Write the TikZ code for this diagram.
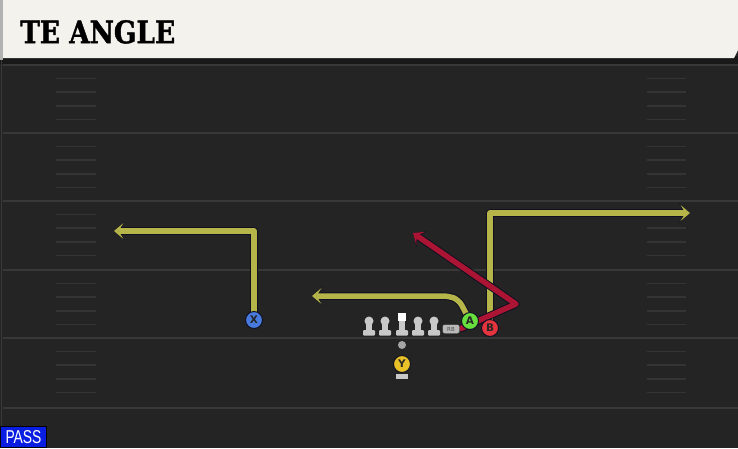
\documentclass[tikz,border=0pt]{standalone}
\usepackage{fontspec}
\usetikzlibrary{arrows.meta}
\newfontfamily\titlefont{DejaVu Serif}[BoldFont={DejaVu Serif Bold},BoldFeatures={FakeBold=1.5}]
\newfontfamily\lblfont{DejaVu Sans}
\newfontfamily\passfont{Liberation Sans}
\definecolor{fieldbg}{RGB}{36,36,36}
\definecolor{yardline}{RGB}{56,56,56}
\definecolor{hashc}{RGB}{52,52,52}
\definecolor{banner}{RGB}{244,242,236}
\definecolor{routey}{RGB}{181,181,74}
\definecolor{router}{RGB}{172,20,52}
\definecolor{outl}{RGB}{16,16,34}
\definecolor{pA}{RGB}{104,222,62}
\definecolor{pB}{RGB}{228,52,62}
\definecolor{pX}{RGB}{72,122,222}
\definecolor{pY}{RGB}{232,192,40}
\definecolor{olin}{RGB}{200,200,200}
\definecolor{passblue}{RGB}{10,30,225}
\pgfdeclarelayer{field}
\pgfdeclarelayer{routes}
\pgfsetlayers{field,routes,main}
\tikzset{
  player/.style={circle,minimum size=17pt,inner sep=0pt,draw=outl,line width=1pt,
    font=\lblfont\bfseries\fontsize{10.5}{10.5}\selectfont,text=black!85},
  routeout/.style={line width=7.5pt,draw=outl,line join=round},
  routein/.style={line width=5.5pt,line join=round},
  tipo/.style={-{Stealth[length=11pt,width=19pt,inset=6pt,line width=1.2pt]}},
  tipi/.style={-{Stealth[length=9.5pt,width=16pt,inset=5pt,line width=0pt]}},
  hashm/.style={draw=hashc,line width=1.6pt},
  yardm/.style={draw=yardline,line width=2pt},
  lineman/.pic={
    \fill[olin,rounded corners=1pt] (-6,9) rectangle (6,14.5);
    \fill[olin] (-3,0) rectangle (3,10);
    \fill[olin] (0,0) circle (4.5);
  }
}
\begin{document}
\begin{tikzpicture}[x=1pt,y=-1pt]
\useasboundingbox (0,0) rectangle (738,448);
\begin{pgfonlayer}{field}
  \fill[fieldbg] (0,0) rectangle (738,448);
  \fill[black!90] (0,56) rectangle (738,64);
  \fill[gray!60] (0,0) rectangle (3,60);
  \draw[draw=yardline,line width=1.5pt] (1.5,60) -- (1.5,448);
  \foreach \y in {65,133,201,270,338,408} {
    \draw[yardm] (3,\y) -- (738,\y);
  }
  \foreach \y in {65,133,201,270,338} {
    \foreach \k in {1,2,3,4} {
      \draw[hashm] (56,{\y+\k*13.6}) -- (96,{\y+\k*13.6});
      \draw[hashm] (647,{\y+\k*13.6}) -- (686,{\y+\k*13.6});
    }
  }
  \fill[banner] (3,0) -- (738,0) -- (738,50) -- (734,58) -- (3,58) -- cycle;
\end{pgfonlayer}
\node[anchor=north west,inner sep=0pt] (title) at (20,20)
  {\resizebox{155pt}{23pt}{\titlefont\bfseries TE ANGLE}};
% players
\node[player,fill=pX] (X) at (254,320) {X};
\node[player,fill=pA] (A) at (470,321) {A};
\node[player,fill=pB] (B) at (490,328) {B};
\node[player,fill=pY] (Y) at (402,364) {Y};
\fill[olin] (396,374) rectangle (408,379);
\node[circle,fill=gray!70,minimum size=8pt,inner sep=0pt] (ball) at (402,345) {};
\pic at (369,321) {lineman};
\pic at (385,321) {lineman};
\pic at (418,321) {lineman};
\pic at (434,321) {lineman};
\fill[olin,rounded corners=1pt] (396,330) rectangle (408,335.5);
\fill[olin] (399,320) rectangle (405,331);
\node[fill=white,minimum width=8pt,minimum height=8.5pt,inner sep=0pt] (C) at (402,317) {};
\node[fill=gray!55,draw=gray!30!black,rounded corners=2pt,inner sep=0pt,minimum width=17pt,minimum height=9pt,
  font=\lblfont\fontsize{5.5}{5.5}\selectfont,text=black!70] (RB) at (451,329) {RB};
% route coordinates
\coordinate (xc) at (254,231);
\coordinate (xe) at (114,231);
\coordinate (ac1) at (459,300);
\coordinate (ac2) at (449,296);
\coordinate (ae) at (312,296);
\coordinate (bc) at (490,213);
\coordinate (be) at (690,213);
\coordinate (rc) at (516,304);
\coordinate (re) at (413,233);
\begin{pgfonlayer}{routes}
  \draw[routeout,tipo] (X.center) -- (xc) -- (xe);
  \draw[routein,tipi,routey] (X.center) -- (xc) -- (xe);
  \draw[routeout,tipo,rounded corners=6pt] (A.center) -- (ac1) -- (ac2) -- (ae);
  \draw[routein,tipi,routey,rounded corners=6pt] (A.center) -- (ac1) -- (ac2) -- (ae);
  \draw[routeout,tipo] (B.center) -- (bc) -- (be);
  \draw[routein,tipi,routey] (B.center) -- (bc) -- (be);
  \draw[routeout,tipo] (RB.east) -- (rc) -- (re);
  \draw[routein,tipi,router] (RB.east) -- (rc) -- (re);
\end{pgfonlayer}
\node[fill=passblue,draw=black,line width=1pt,anchor=south west,minimum width=46pt,minimum height=21pt,inner sep=0pt] (pass) at (0,448)
  {\resizebox{36pt}{13pt}{\color{white}\passfont PASS}};
\end{tikzpicture}
\end{document}
